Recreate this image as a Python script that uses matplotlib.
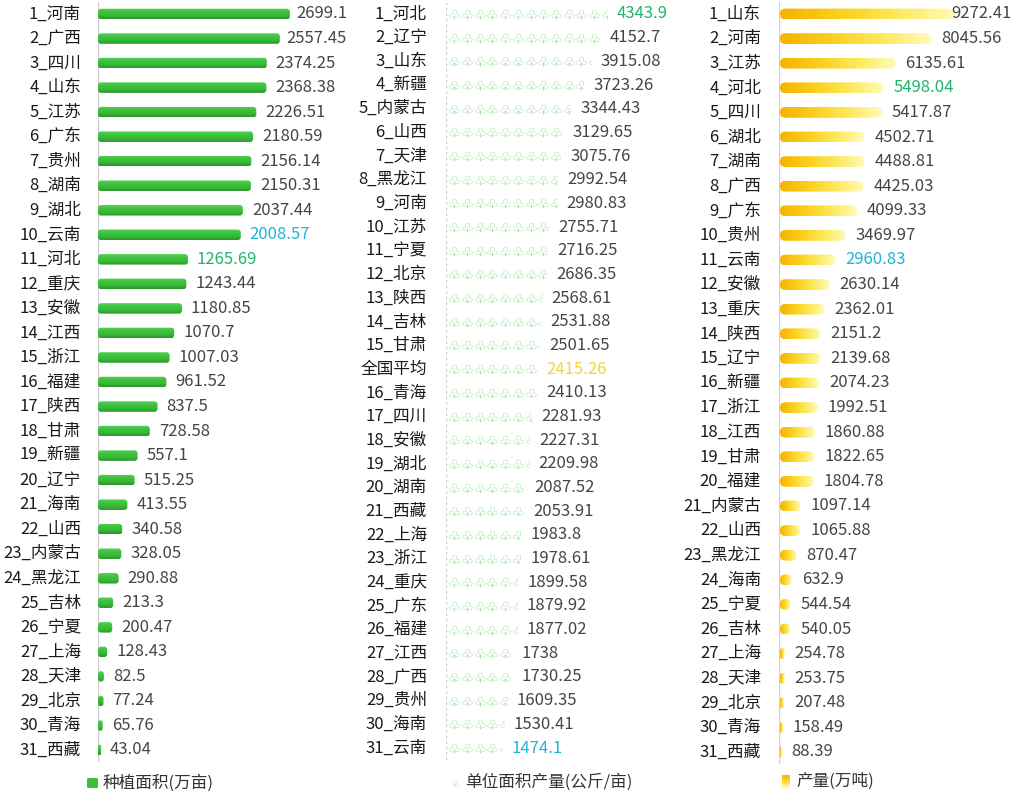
import matplotlib
matplotlib.use('Agg')
import matplotlib.pyplot as plt
import numpy as np
from matplotlib.patches import FancyBboxPatch, Rectangle
from matplotlib.colors import LinearSegmentedColormap
from matplotlib.textpath import TextPath
from matplotlib.font_manager import FontProperties
from matplotlib.path import Path

plt.rcParams['font.family'] = ['Noto Sans CJK SC', 'DejaVu Sans']

# ---------------- data ----------------
area_labels = ['1_河南', '2_广西', '3_四川', '4_山东', '5_江苏', '6_广东', '7_贵州', '8_湖南',
               '9_湖北', '10_云南', '11_河北', '12_重庆', '13_安徽', '14_江西', '15_浙江',
               '16_福建', '17_陕西', '18_甘肃', '19_新疆', '20_辽宁', '21_海南', '22_山西',
               '23_内蒙古', '24_黑龙江', '25_吉林', '26_宁夏', '27_上海', '28_天津',
               '29_北京', '30_青海', '31_西藏']
area_values = [2699.1, 2557.45, 2374.25, 2368.38, 2226.51, 2180.59, 2156.14, 2150.31,
               2037.44, 2008.57, 1265.69, 1243.44, 1180.85, 1070.7, 1007.03, 961.52,
               837.5, 728.58, 557.1, 515.25, 413.55, 340.58, 328.05, 290.88, 213.3,
               200.47, 128.43, 82.5, 77.24, 65.76, 43.04]

yield_labels = ['1_河北', '2_辽宁', '3_山东', '4_新疆', '5_内蒙古', '6_山西', '7_天津',
                '8_黑龙江', '9_河南', '10_江苏', '11_宁夏', '12_北京', '13_陕西', '14_吉林',
                '15_甘肃', '全国平均', '16_青海', '17_四川', '18_安徽', '19_湖北', '20_湖南',
                '21_西藏', '22_上海', '23_浙江', '24_重庆', '25_广东', '26_福建', '27_江西',
                '28_广西', '29_贵州', '30_海南', '31_云南']
yield_values = [4343.9, 4152.7, 3915.08, 3723.26, 3344.43, 3129.65, 3075.76, 2992.54,
                2980.83, 2755.71, 2716.25, 2686.35, 2568.61, 2531.88, 2501.65, 2415.26,
                2410.13, 2281.93, 2227.31, 2209.98, 2087.52, 2053.91, 1983.8, 1978.61,
                1899.58, 1879.92, 1877.02, 1738, 1730.25, 1609.35, 1530.41, 1474.1]

prod_labels = ['1_山东', '2_河南', '3_江苏', '4_河北', '5_四川', '6_湖北', '7_湖南', '8_广西',
               '9_广东', '10_贵州', '11_云南', '12_安徽', '13_重庆', '14_陕西', '15_辽宁',
               '16_新疆', '17_浙江', '18_江西', '19_甘肃', '20_福建', '21_内蒙古', '22_山西',
               '23_黑龙江', '24_海南', '25_宁夏', '26_吉林', '27_上海', '28_天津', '29_北京',
               '30_青海', '31_西藏']
prod_values = [9272.41, 8045.56, 6135.61, 5498.04, 5417.87, 4502.71, 4488.81, 4425.03,
               4099.33, 3469.97, 2960.83, 2630.14, 2362.01, 2151.2, 2139.68, 2074.23,
               1992.51, 1860.88, 1822.65, 1804.78, 1097.14, 1065.88, 870.47, 632.9,
               544.54, 540.05, 254.78, 253.75, 207.48, 158.49, 88.39]

legend_names = ['种植面积(万亩)', '单位面积产量(公斤/亩)', '产量(万吨)']
highlight = {'河北': '#1fb56a', '云南': '#1db4d8', '全国平均': '#f4d33c'}

# ---------------- layout ----------------
W, H = 1014, 794
fig = plt.figure(figsize=(W / 100, H / 100), dpi=100)
fig.patch.set_facecolor('white')


def add_ax(left_px, right_px, first_row_px, last_row_px, n):
    s = (last_row_px - first_row_px) / (n - 1)
    top = first_row_px - s / 2
    bottom = last_row_px + s / 2
    ax = fig.add_axes([left_px / W, 1 - bottom / H, (right_px - left_px) / W, (bottom - top) / H])
    ax.set_ylim(n - 0.5, -0.5)
    ax.axis('off')
    return ax, s


def label_color(name):
    for key, c in highlight.items():
        if key in name:
            return c
    return '#454545'


value_texts = []


def add_labels(ax, labels, values, cat_off, val_off, right_limit):
    for i, (lab, v) in enumerate(zip(labels, values)):
        ax.annotate(lab, xy=(0, i), xytext=(cat_off, 0), textcoords='offset pixels',
                    ha='right', va='center', fontsize=12, color='#1a1a1a',
                    annotation_clip=False)
        t = ax.annotate(f'{v:g}', xy=(v, i), xytext=(val_off, 0), textcoords='offset pixels',
                        ha='left', va='center', fontsize=12, color=label_color(lab),
                        annotation_clip=False)
        value_texts.append((t, right_limit))


# ---- left panel: planting area ----
n1 = len(area_values)
ax1, s1 = add_ax(98, 348, 14, 750, n1)
k1 = 0.0711
ax1.set_xlim(0, 250 / k1)
ax1.axvline(0, color='#cfcfcf', lw=1, zorder=0)
h1 = 10.5 / s1
asp1 = (1 / s1) / (1 / k1)
green_cmap = LinearSegmentedColormap.from_list('g', ['#52d452', '#3fc23f', '#38b838', '#2a962a'])
grad_v = np.linspace(0, 1, 64).reshape(-1, 1)
for i, v in enumerate(area_values):
    r = min(3 / k1, v / 2)
    p = FancyBboxPatch((0, i - h1 / 2), v, h1, boxstyle=f'round,pad=0,rounding_size={r}',
                       mutation_aspect=asp1, facecolor='none', edgecolor='none',
                       transform=ax1.transData)
    ax1.add_patch(p)
    im = ax1.imshow(grad_v, cmap=green_cmap, aspect='auto', origin='upper',
                    extent=(0, v, i + h1 / 2, i - h1 / 2), interpolation='bilinear')
    im.set_clip_path(p)
ax1.set_xlim(0, 250 / k1)
ax1.set_ylim(n1 - 0.5, -0.5)
add_labels(ax1, area_labels, area_values, -17, 9, 347)

# ---- middle panel: yield per unit ----
n2 = len(yield_values)
ax2, s2 = add_ax(446, 676, 14, 748, n2)
k2 = 0.0365
x0 = -2 / k2
ax2.set_xlim(x0, x0 + 230 / k2)
ax2.axvline(x0, color='#cfcfcf', lw=1, ls=(0, (2, 2)), zorder=0)

tp = TextPath((0, 0), '\u2667', size=1, prop=FontProperties(family='DejaVu Sans'))
verts = tp.vertices.copy()
ext = tp.get_extents()
verts[:, 0] -= (ext.x0 + ext.x1) / 2
verts[:, 1] -= (ext.y0 + ext.y1) / 2
verts[:, 0] *= 1.2
sprout = Path(verts, tp.codes)

step = 12.7 / k2
for i, v in enumerate(yield_values):
    nsym = int(np.ceil(v / step))
    xs = step * (np.arange(nsym) + 0.5)
    sc = ax2.scatter(xs, np.full(nsym, i), marker=sprout, s=(13.5 * 0.72) ** 2,
                     color='#7ed67e', linewidths=0)
    clip = Rectangle((0, i - 0.5), v, 1, transform=ax2.transData)
    sc.set_clip_path(clip)
add_labels(ax2, yield_labels, yield_values, -21, 10, 670)

# ---- right panel: production ----
n3 = len(prod_values)
ax3, s3 = add_ax(779, 1014, 14, 752, n3)
k3 = 0.0188
x03 = -1 / k3
ax3.set_xlim(x03, x03 + 235 / k3)
ax3.axvline(x03, color='#cfcfcf', lw=1, zorder=0)
h3 = 10.8 / s3
asp3 = (1 / s3) / (1 / k3)
yellow_cmap = LinearSegmentedColormap.from_list('y', ['#f6b300', '#fbcf1c', '#fde85a', '#fffbb8'])
grad_h = np.linspace(0, 1, 128).reshape(1, -1)
for i, v in enumerate(prod_values):
    r = min(0.49 * h3 / asp3, v / 2)
    p = FancyBboxPatch((0, i - h3 / 2), v, h3, boxstyle=f'round,pad=0,rounding_size={r}',
                       mutation_aspect=asp3, facecolor='none', edgecolor='none',
                       transform=ax3.transData)
    ax3.add_patch(p)
    im = ax3.imshow(grad_h, cmap=yellow_cmap, aspect='auto', origin='upper',
                    extent=(0, v, i + h3 / 2, i - h3 / 2), interpolation='bilinear')
    im.set_clip_path(p)
ax3.set_xlim(x03, x03 + 235 / k3)
ax3.set_ylim(n3 - 0.5, -0.5)
add_labels(ax3, prod_labels, prod_values, -19, 10, 1012)

# ---- legends (pixel overlay) ----
axl = fig.add_axes([0, 0, 1, 1], facecolor='none')
axl.set_xlim(0, W)
axl.set_ylim(H, 0)
axl.axis('off')
axl.add_patch(FancyBboxPatch((87, 778), 11, 10, boxstyle='round,pad=0,rounding_size=1.5',
                             facecolor='#3cbf3c', edgecolor='none'))
axl.text(103, 783, legend_names[0], ha='left', va='center', fontsize=12, color='#333333')
axl.scatter([455], [783], marker=sprout, s=(9 * 0.72) ** 2, color='#7ed67e', linewidths=0)
axl.text(465, 782, legend_names[1], ha='left', va='center', fontsize=12, color='#333333')
lg = axl.imshow(np.linspace(0, 1, 32).reshape(-1, 1), cmap=yellow_cmap, aspect='auto',
                extent=(782, 790, 788, 775), origin='upper')
axl.text(796, 781, legend_names[2], ha='left', va='center', fontsize=12, color='#333333')
axl.set_xlim(0, W)
axl.set_ylim(H, 0)

# keep value labels inside their panel
fig.canvas.draw()
renderer = fig.canvas.get_renderer()
for t, lim in value_texts:
    bb = t.get_window_extent(renderer)
    if bb.x1 > lim:
        ox, oy = t.xyann
        t.xyann = (ox - (bb.x1 - lim), oy)

fig.savefig('out.png', dpi=100, facecolor='white')
